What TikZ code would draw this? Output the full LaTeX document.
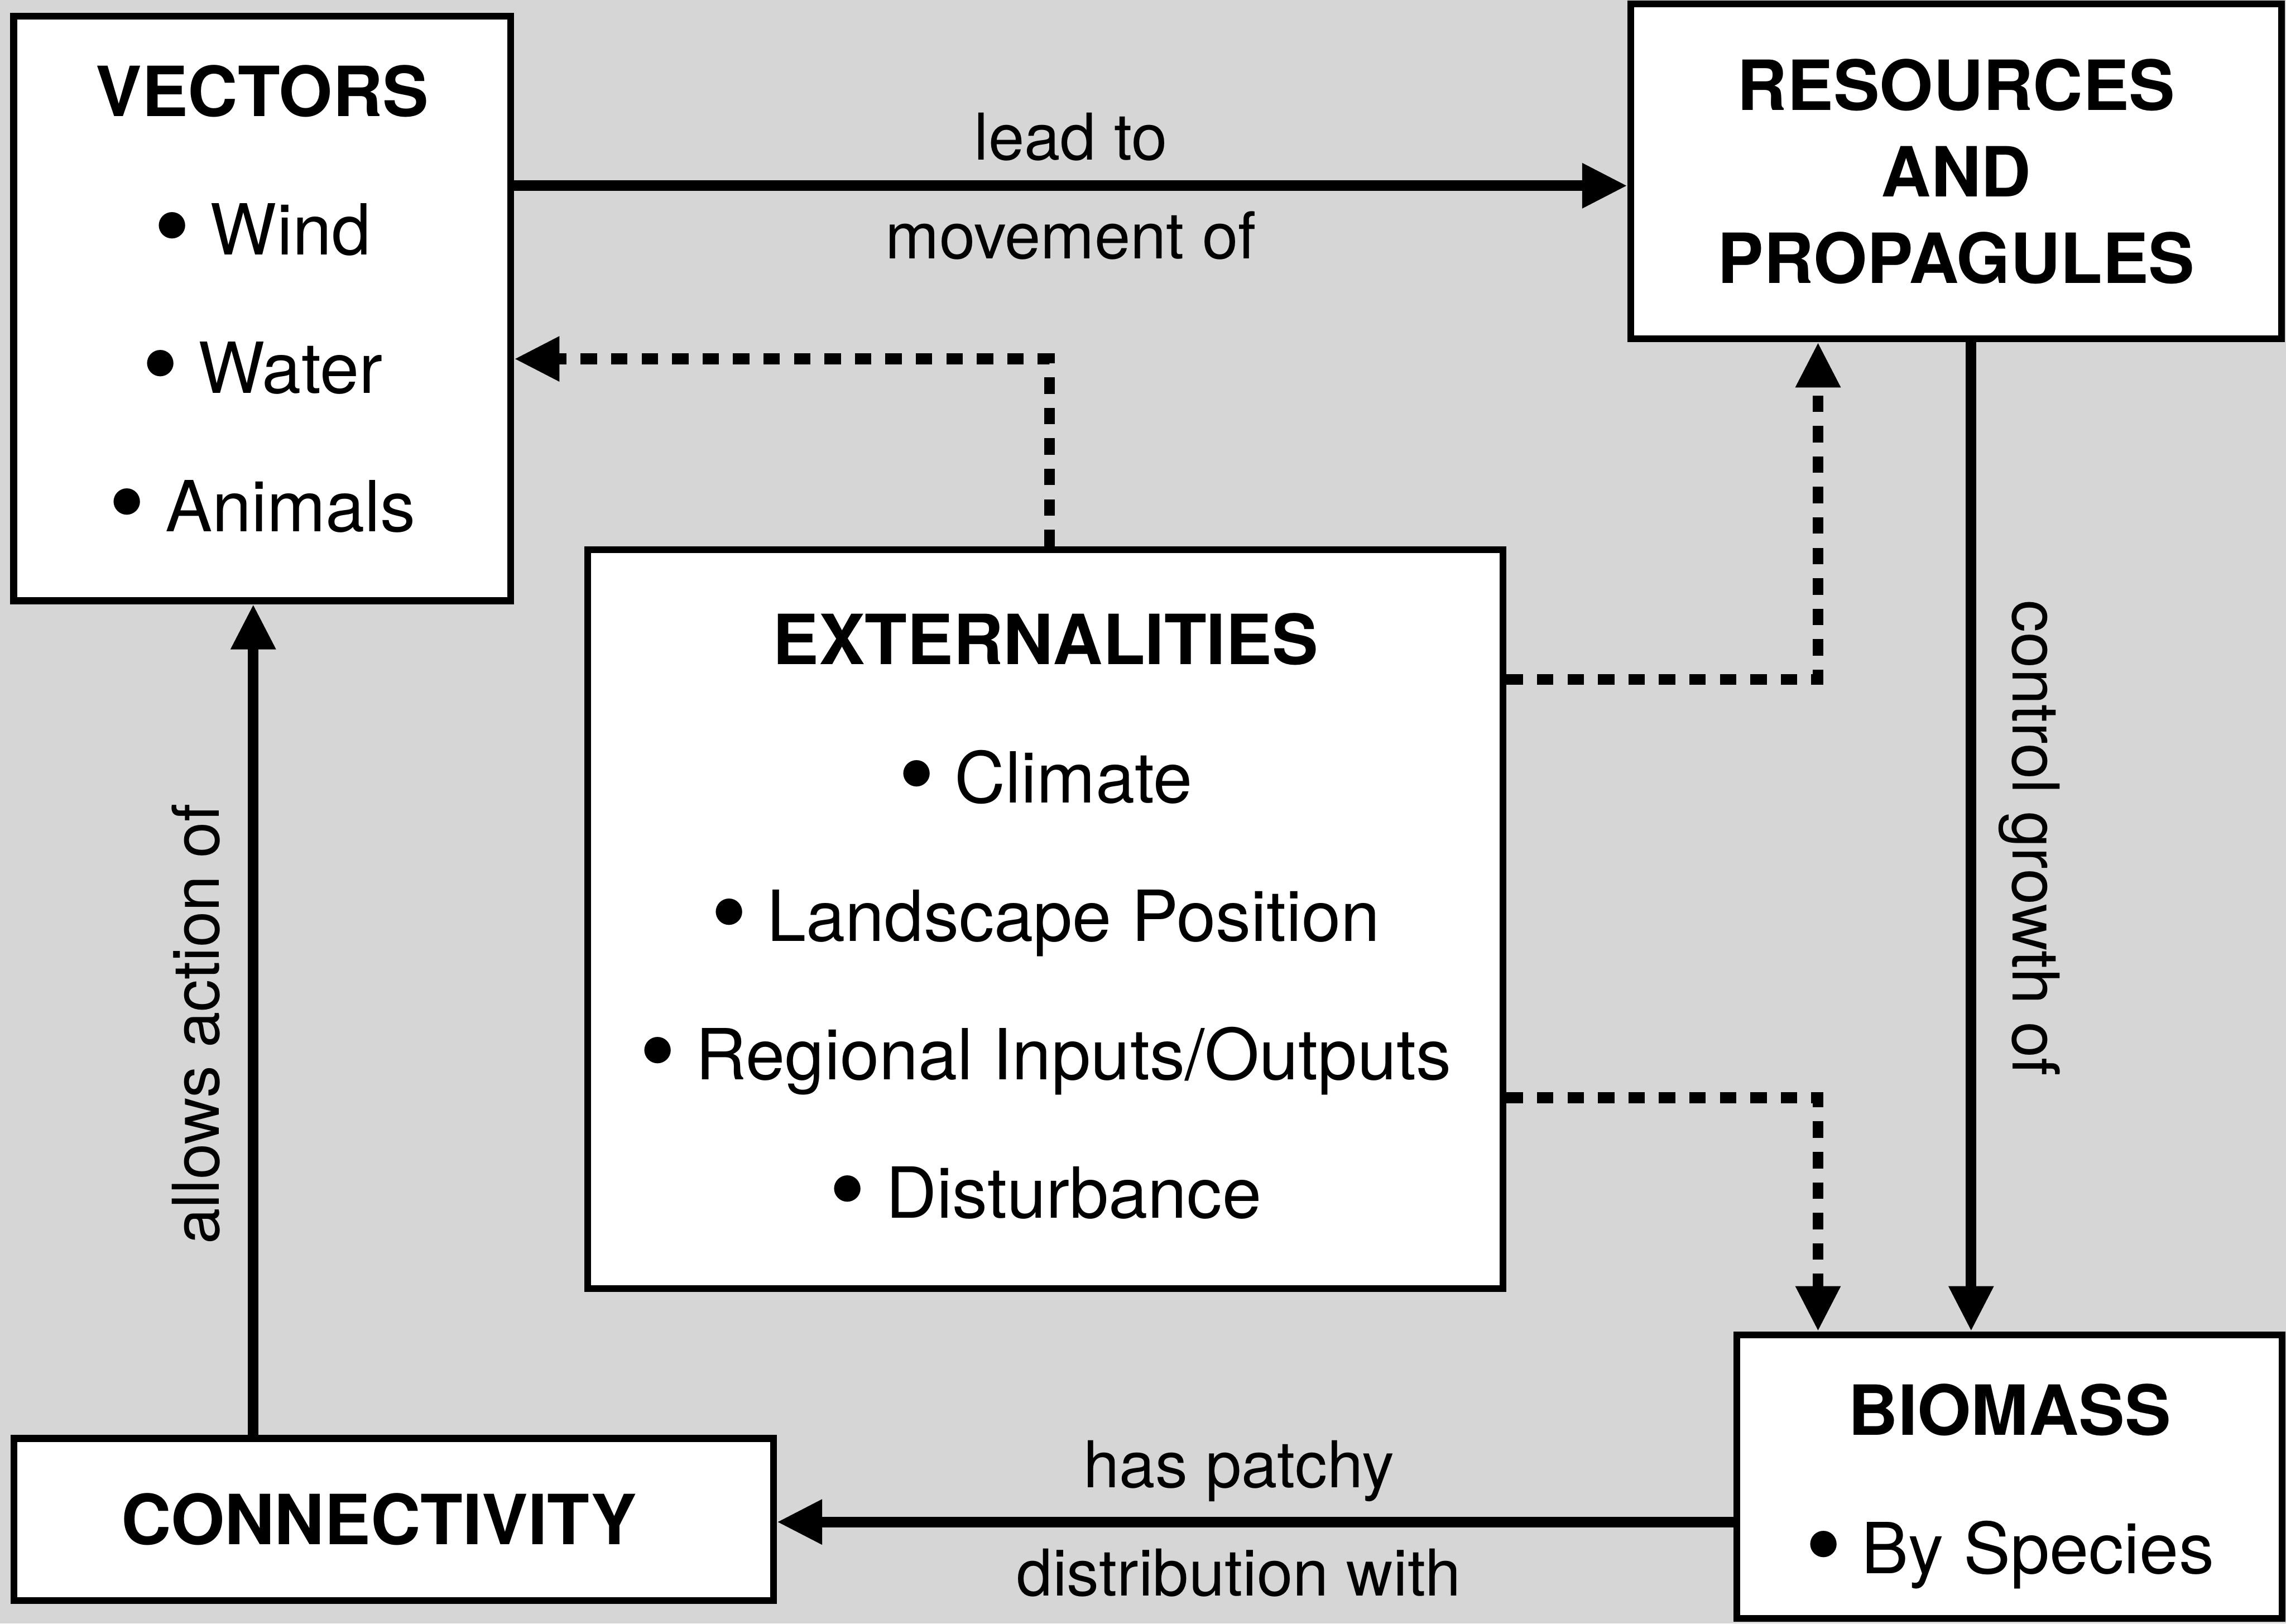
\documentclass[tikz,border=0pt]{standalone}
\usepackage{fontspec}
\setmainfont{TeX Gyre Heros}
\usetikzlibrary{arrows.meta}
\definecolor{bggray}{RGB}{214,214,214}
\newcommand\boxfont{\fontsize{13.75pt}{27pt}\selectfont}
\newcommand\lblfont{\fontsize{12.6pt}{15pt}\selectfont}
\newcommand\hd[1]{{\fontsize{13.5pt}{27pt}\selectfont\bfseries #1}}
\newcommand\bul{\raisebox{-0.1em}{\scalebox{1.5}{\textbullet}}\ }
\tikzset{
  box/.style={draw, line width=1.33pt, fill=white, inner sep=0pt, align=center, font=\boxfont},
  link/.style={line width=2.1pt, -{Triangle[length=3.1mm,width=2.9mm]}},
  dlink/.style={link, dash pattern=on 1.13mm off 0.96mm},
  lbl/.style={inner sep=0pt, outer sep=0pt, font=\lblfont},
}

\begin{document}
\begin{tikzpicture}
\fill[bggray] (0,0) rectangle (15.68,-11.137);
\useasboundingbox (0,0) rectangle (15.68,-11.137);

% boxes
\node[box, minimum width=3.41cm, minimum height=4.01cm] (vec) at (1.799,-2.116)
  {\hd{VECTORS}\\ \bul Wind\\ \bul Water\\ \bul Animals\rule[-0.14cm]{0pt}{0pt}};
\node[box, minimum width=4.465cm, minimum height=2.297cm,
  font=\fontsize{13.5pt}{16.9pt}\selectfont] (res) at (13.418,-1.176)
  {\hd{RESOURCES}\\ \hd{AND}\\ \hd{PROPAGULES}};
\node[box, minimum width=6.28cm, minimum height=5.07cm] (ext) at (7.17,-6.305)
  {\hd{EXTERNALITIES}\\ \bul Climate\\ \bul Landscape Position\\
   \bul Regional Inputs/Outputs\\ \bul Disturbance};
\node[box, minimum width=3.74cm, minimum height=1.945cm] (bio) at (13.784,-10.128)
  {\rule{0pt}{0.49cm}\hd{BIOMASS}\\ \bul By Species};
\node[box, minimum width=5.211cm, minimum height=1.112cm] (con) at (2.70,-10.423)
  {\hspace*{-0.2cm}\hd{CONNECTIVITY}};

% solid links
\draw[link] (vec.east |- 0,-1.274) -- (res.west |- 0,-1.274)
  node[lbl, midway, above=0.17cm] (leadto) {lead to}
  node[lbl, midway, below=0.175cm] (moveof) {movement of};
\draw[link] (res.south -| 13.52,0) -- (bio.north -| 13.52,0);
\draw[link] (bio.west |- 0,-10.44) -- (con.east |- 0,-10.44)
  node[lbl, pos=0.517, above=0.138cm] (patchy) {has patchy}
  node[lbl, pos=0.517, below=0.182cm] (distrib) {distribution with};
\draw[link] (con.north -| 1.737,0) -- (vec.south -| 1.737,0);

% vertical labels
\node[lbl, rotate=-90, anchor=south] (growth) at (13.71,-5.75) {control growth of};
\node[lbl, rotate=90, anchor=south] (action) at (1.508,-7.025) {allows action of};

% dashed links
\draw[dlink] (ext.north -| 7.2,0) |- (vec.east |- 0,-2.462);
\draw[dlink] (ext.east |- 0,-4.66) -| (res.south -| 12.47,0);
\draw[dlink] (ext.east |- 0,-7.53) -| (bio.north -| 12.47,0);
\end{tikzpicture}
\end{document}
